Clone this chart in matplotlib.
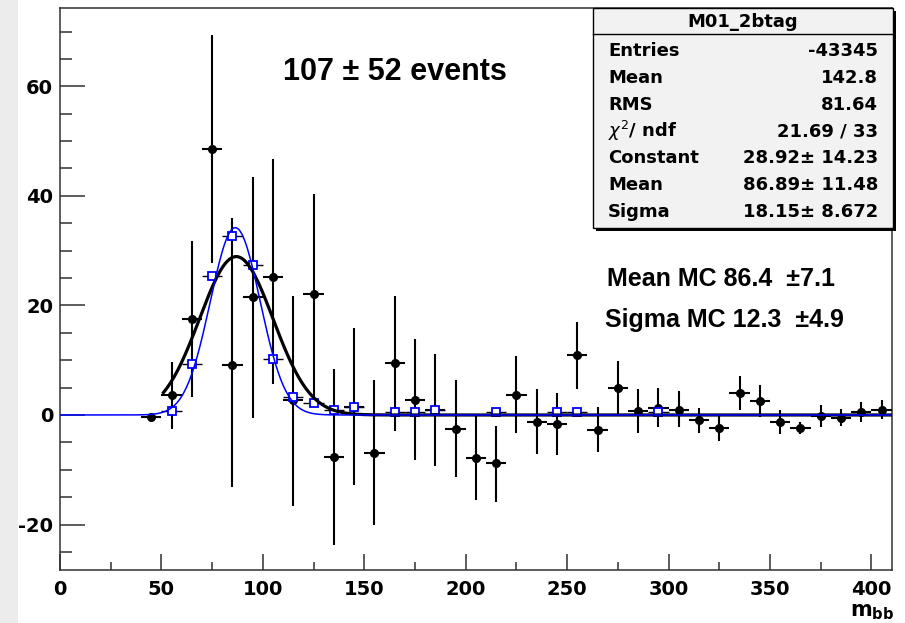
import matplotlib
matplotlib.use("Agg")
import matplotlib.pyplot as plt
import numpy as np
from matplotlib.patches import Rectangle
from matplotlib.ticker import MultipleLocator

plt.rcParams["axes.unicode_minus"] = False

W, H = 905, 623

# background-subtracted data, 10 GeV bins
bin_centers = [45, 55, 65, 75, 85, 95, 105, 115, 125, 135, 145, 155, 165, 175,
               185, 195, 205, 215, 225, 235, 245, 255, 265, 275, 285, 295, 305,
               315, 325, 335, 345, 355, 365, 375, 385, 395, 405]
data_counts = [-0.3, 3.7, 17.5, 48.6, 9.1, 21.5, 25.2, 2.7, 22.1, -7.7, 1.5, -7.0,
               9.4, 2.7, 0.9, -2.6, -7.8, -8.8, 3.6, -1.2, -1.7, 11.0, -2.7, 4.9,
               0.8, 1.3, 1.0, -1.0, -2.3, 4.1, 2.6, -1.2, -2.3, -0.2, -0.5, 0.5, 1.0]
data_err_lo = [0.5, 6.3, 14.3, 20.8, 22.3, 22.0, 19.5, 19.4, 18.8, 16.0, 14.3, 13.1,
               12.3, 10.9, 10.3, 8.7, 7.8, 7.0, 6.9, 5.9, 5.6, 6.3, 4.0, 4.7,
               4.0, 3.5, 3.2, 2.3, 2.5, 3.1, 2.9, 2.2, 1.2, 2.0, 1.5, 1.8, 1.7]
data_err_hi = [0.5, 6.0, 14.2, 20.8, 26.8, 22.0, 21.5, 19.0, 18.3, 16.1, 14.4, 13.3,
               12.3, 11.2, 10.2, 8.9, 7.8, 6.8, 7.2, 5.9, 5.8, 6.0, 4.1, 5.0,
               4.0, 3.7, 3.3, 2.3, 2.5, 3.1, 2.8, 2.2, 1.0, 2.1, 1.6, 1.8, 1.7]

# MC signal, non-empty bins
mc_centers = [55, 65, 75, 85, 95, 105, 115, 125, 135, 145, 165, 175, 185, 215,
              245, 255, 295]
mc_counts = [0.8, 9.3, 25.3, 32.7, 27.4, 10.2, 3.2, 2.1, 1.0, 1.4, 0.5, 0.5, 0.9,
             0.5, 0.5, 0.5, 0.6]

# gaussian fits
fit_const, fit_mean, fit_sigma = 28.92, 86.89, 18.15
fit_range = (51, 410)
mc_const, mc_mean, mc_sigma = 34.2, 86.4, 12.3
mc_range = (0, 410)

stats_title = "M01_2btag"
stats_rows = [("Entries", "-43345"), ("Mean", "142.8"), ("RMS", "81.64"),
              (r"$\chi^{2}$/ ndf", "21.69 / 33"), ("Constant", "28.92\u00b1 14.23"),
              ("Mean", "86.89\u00b1 11.48"), ("Sigma", "18.15\u00b1 8.672")]


def gaus(x, c, m, s):
    return c * np.exp(-0.5 * ((x - m) / s) ** 2)


def fx(px):
    return px / W


def fy(py):
    return 1 - py / H


fig = plt.figure(figsize=(W / 100, H / 100), dpi=100)
fig.patches.append(Rectangle((0, 0), fx(18), 1, transform=fig.transFigure,
                             facecolor="#ececec", edgecolor="none", zorder=0))

ax = fig.add_axes([fx(60), fy(570), fx(891.7) - fx(60), fy(8) - fy(570)])
ax.set_xlim(0, 410)
ax.set_ylim(-28.3, 74.3)

ax.errorbar(bin_centers, data_counts, yerr=[data_err_lo, data_err_hi], xerr=5,
            fmt="o", color="black", ms=5.5, elinewidth=1.5, capsize=0, zorder=3)
ax.errorbar(mc_centers, mc_counts, xerr=5, fmt="s", mfc="white", mec="blue",
            mew=1.3, ms=6, ecolor="black", elinewidth=1, capsize=0, zorder=4)

xf = np.linspace(*fit_range, 400)
ax.plot(xf, gaus(xf, fit_const, fit_mean, fit_sigma), color="black", lw=2.3, zorder=5)
xm = np.linspace(*mc_range, 600)
ax.plot(xm, gaus(xm, mc_const, mc_mean, mc_sigma), color="blue", lw=1.1, zorder=6)

# axis styling
for side in ax.spines.values():
    side.set_color("#303030")
    side.set_linewidth(1.1)
ax.xaxis.set_major_locator(MultipleLocator(50))
ax.xaxis.set_minor_locator(MultipleLocator(25))
ax.yaxis.set_major_locator(MultipleLocator(20))
ax.yaxis.set_minor_locator(MultipleLocator(5))
ax.tick_params(which="both", direction="in", top=False, right=False,
               color="#303030", width=1.1)
ax.tick_params(axis="x", which="major", length=11.5, pad=7)
ax.tick_params(axis="x", which="minor", length=5.8)
ax.tick_params(axis="y", which="major", length=18, pad=5)
ax.tick_params(axis="y", which="minor", length=8.6)
for lab in ax.get_xticklabels() + ax.get_yticklabels():
    lab.set_fontfamily("DejaVu Sans")
    lab.set_fontweight("bold")
    lab.set_fontsize(14)

# annotations
bold = dict(family="Liberation Sans", weight="bold")
fig.text(fx(283), fy(80), "107 \u00b1 52 events", fontsize=22, va="baseline", **bold)
fig.text(fx(607), fy(286), "Mean MC 86.4  \u00b17.1", fontsize=18, va="baseline", **bold)
fig.text(fx(605), fy(327), "Sigma MC 12.3  \u00b14.9", fontsize=18, va="baseline", **bold)
fig.text(fx(850), fy(622), r"$\mathbf{m_{bb}}$", fontsize=15, va="bottom")

# stats box
bx0, bx1, by0, by1 = 593, 893, 8, 228
fig.patches.append(Rectangle((fx(bx0 + 3), fy(by1 + 3)), fx(bx1) - fx(bx0), fy(by0) - fy(by1),
                             transform=fig.transFigure, facecolor="black",
                             edgecolor="none", zorder=5))
fig.patches.append(Rectangle((fx(bx0), fy(by1)), fx(bx1) - fx(bx0), fy(by0) - fy(by1),
                             transform=fig.transFigure, facecolor="#f2f2f2",
                             edgecolor="black", lw=1.0, zorder=6))
fig.add_artist(plt.Line2D([fx(bx0), fx(bx1)], [fy(34), fy(34)], color="black",
                          lw=1.0, transform=fig.transFigure, zorder=7))
st = dict(family="DejaVu Sans", weight="bold", fontsize=13, zorder=8)
fig.text(fx((bx0 + bx1) / 2), fy(22), stats_title, ha="center", va="center", **st)
for i, (name, val) in enumerate(stats_rows):
    yc = 51 + i * 26.8
    fig.text(fx(608), fy(yc), name, ha="left", va="center", **st)
    fig.text(fx(878), fy(yc), val, ha="right", va="center", **st)

fig.savefig("out.png", dpi=100)
